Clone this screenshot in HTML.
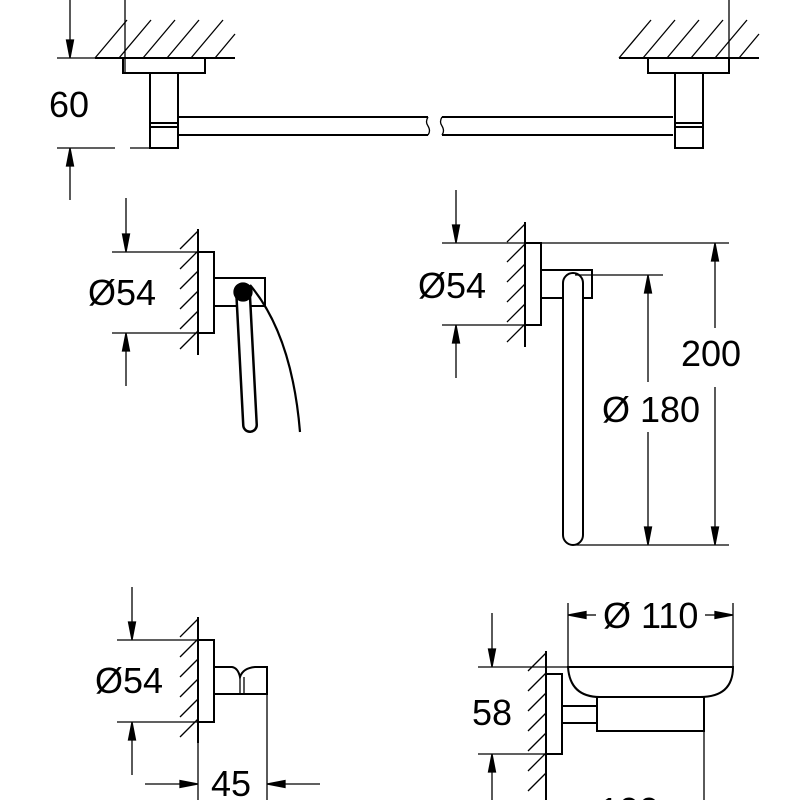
<!DOCTYPE html>
<html><head><meta charset="utf-8"><style>
html,body{margin:0;padding:0;background:#fff;}
svg{display:block;}
text{font-family:"Liberation Sans",Arial,sans-serif;font-size:36px;fill:#000;stroke:none;}
</style></head><body>
<svg width="800" height="800" viewBox="0 0 800 800" xmlns="http://www.w3.org/2000/svg">
<g stroke="#000" fill="none" stroke-width="1.3">
<!-- ===== TOP: towel bar ===== -->
<line x1="70" y1="0" x2="70" y2="40"/>
<polygon points="66.5,40 73.5,40 70,58" fill="#000"/>
<line x1="57" y1="58" x2="95" y2="58"/>
<line x1="57" y1="148" x2="115" y2="148"/>
<line x1="130" y1="148" x2="150" y2="148"/>
<polygon points="66.5,166 73.5,166 70,148" fill="#000"/>
<line x1="70" y1="166" x2="70" y2="200"/>
<line x1="95" y1="58" x2="235" y2="58" stroke-width="2"/>
<line x1="95" y1="58" x2="127" y2="20"/><line x1="119" y1="58" x2="151" y2="20"/><line x1="143" y1="58" x2="175" y2="20"/><line x1="167" y1="58" x2="199" y2="20"/><line x1="191" y1="58" x2="223" y2="20"/><line x1="215" y1="58" x2="235" y2="34"/>
<line x1="125" y1="0" x2="125" y2="73"/>
<rect x="123" y="58" width="82" height="15" stroke-width="2"/>
<rect x="150" y="73" width="28" height="75" stroke-width="2"/>
<line x1="150" y1="123" x2="178" y2="123" stroke-width="2"/><line x1="150" y1="127" x2="178" y2="127" stroke-width="2"/>
<path d="M178,117 L428,117 M178,135 L428,135 M442,117 L673,117 M442,135 L673,135" stroke-width="2"/>
<path d="M428,117 q-3,5 0,9 q3,5 0,9 M442,117 q-3,5 0,9 q3,5 0,9"/>
<line x1="619" y1="58" x2="759" y2="58" stroke-width="2"/>
<line x1="619" y1="58" x2="651" y2="20"/><line x1="643" y1="58" x2="675" y2="20"/><line x1="667" y1="58" x2="699" y2="20"/><line x1="691" y1="58" x2="723" y2="20"/><line x1="715" y1="58" x2="747" y2="20"/><line x1="739" y1="58" x2="759" y2="34"/>
<line x1="729" y1="0" x2="729" y2="73"/>
<rect x="648" y="58" width="81" height="15" stroke-width="2"/>
<rect x="675" y="73" width="28" height="75" stroke-width="2"/>
<line x1="675" y1="123" x2="703" y2="123" stroke-width="2"/><line x1="675" y1="127" x2="703" y2="127" stroke-width="2"/>
<text x="49" y="117">60</text>

<!-- ===== paper holder ===== -->
<line x1="126" y1="198" x2="126" y2="234"/>
<polygon points="122.5,234 129.5,234 126,252" fill="#000"/>
<line x1="112" y1="252" x2="198" y2="252"/>
<line x1="112" y1="333" x2="198" y2="333"/>
<polygon points="122.5,351 129.5,351 126,333" fill="#000"/>
<line x1="126" y1="351" x2="126" y2="386"/>
<line x1="198" y1="229" x2="198" y2="355" stroke-width="2"/>
<line x1="198" y1="231" x2="180" y2="249"/><line x1="198" y1="251" x2="180" y2="269"/><line x1="198" y1="271" x2="180" y2="289"/><line x1="198" y1="291" x2="180" y2="309"/><line x1="198" y1="311" x2="180" y2="329"/><line x1="198" y1="331" x2="180" y2="349"/>
<rect x="198" y="252" width="16" height="81" stroke-width="2"/>
<rect x="214" y="278" width="51" height="28" stroke-width="2"/>
<line x1="243" y1="292" x2="250" y2="425" stroke-width="16" stroke-linecap="round"/>
<line x1="243" y1="292" x2="250" y2="425" stroke="#fff" stroke-width="11" stroke-linecap="round"/>
<circle cx="243" cy="292" r="9" fill="#000"/>
<path d="M250,285 Q292,335 300,432" stroke-width="2.2"/>
<text x="88" y="305">Ø54</text>

<!-- ===== towel ring ===== -->
<line x1="456" y1="190" x2="456" y2="225"/>
<polygon points="452.5,225 459.5,225 456,243" fill="#000"/>
<line x1="442" y1="243" x2="729" y2="243"/>
<line x1="442" y1="325" x2="540" y2="325"/>
<polygon points="452.5,343 459.5,343 456,325" fill="#000"/>
<line x1="456" y1="343" x2="456" y2="378"/>
<line x1="525" y1="222" x2="525" y2="347" stroke-width="2"/>
<line x1="525" y1="224" x2="507" y2="242"/><line x1="525" y1="244" x2="507" y2="262"/><line x1="525" y1="264" x2="507" y2="282"/><line x1="525" y1="284" x2="507" y2="302"/><line x1="525" y1="304" x2="507" y2="322"/><line x1="525" y1="324" x2="507" y2="342"/>
<rect x="525" y="243" width="16" height="82" stroke-width="2"/>
<rect x="541" y="270" width="51" height="28" stroke-width="2"/>
<rect x="563" y="273" width="20" height="272" rx="10" fill="#fff" stroke-width="2"/>
<line x1="575" y1="275" x2="663" y2="275"/>
<line x1="575" y1="545" x2="729" y2="545"/>
<line x1="648" y1="293" x2="648" y2="382"/><line x1="648" y1="432" x2="648" y2="527"/>
<polygon points="644.5,293 651.5,293 648,275" fill="#000"/>
<polygon points="644.5,527 651.5,527 648,545" fill="#000"/>
<line x1="715" y1="261" x2="715" y2="328"/><line x1="715" y1="387" x2="715" y2="527"/>
<polygon points="711.5,261 718.5,261 715,243" fill="#000"/>
<polygon points="711.5,527 718.5,527 715,545" fill="#000"/>
<text x="418" y="298">Ø54</text>
<text x="602" y="422">Ø 180</text>
<text x="681" y="366">200</text>

<!-- ===== hook ===== -->
<line x1="132" y1="587" x2="132" y2="622"/>
<polygon points="128.5,622 135.5,622 132,640" fill="#000"/>
<line x1="117" y1="640" x2="198" y2="640"/>
<line x1="117" y1="722" x2="198" y2="722"/>
<polygon points="128.5,740 135.5,740 132,722" fill="#000"/>
<line x1="132" y1="740" x2="132" y2="775"/>
<line x1="198" y1="617" x2="198" y2="743" stroke-width="2"/>
<line x1="198" y1="743" x2="198" y2="800"/>
<line x1="198" y1="619" x2="180" y2="637"/><line x1="198" y1="639" x2="180" y2="657"/><line x1="198" y1="659" x2="180" y2="677"/><line x1="198" y1="679" x2="180" y2="697"/><line x1="198" y1="699" x2="180" y2="717"/><line x1="198" y1="719" x2="180" y2="737"/>
<rect x="198" y="640" width="16" height="82" stroke-width="2"/>
<path d="M214,667 L232,667 Q238,668 240,677 Q243,668 255,667 L267,667 L267,694 L214,694" stroke-width="2"/>
<line x1="240" y1="677" x2="240" y2="694"/><line x1="244" y1="677" x2="244" y2="694"/>
<line x1="267" y1="694" x2="267" y2="800"/>
<line x1="145" y1="784" x2="180" y2="784"/>
<polygon points="180,780.5 180,787.5 198,784" fill="#000"/>
<line x1="285" y1="784" x2="320" y2="784"/>
<polygon points="285,780.5 285,787.5 267,784" fill="#000"/>
<text x="95" y="693">Ø54</text>
<text x="211" y="796">45</text>

<!-- ===== soap dish ===== -->
<line x1="568" y1="603" x2="568" y2="667"/>
<line x1="733" y1="603" x2="733" y2="667"/>
<polygon points="586,611.5 586,618.5 568,615" fill="#000"/>
<polygon points="715,611.5 715,618.5 733,615" fill="#000"/>
<line x1="586" y1="615" x2="596" y2="615"/><line x1="705" y1="615" x2="715" y2="615"/>
<line x1="492" y1="613" x2="492" y2="649"/>
<polygon points="488.5,649 495.5,649 492,667" fill="#000"/>
<line x1="478" y1="667" x2="568" y2="667"/>
<line x1="478" y1="754" x2="562" y2="754"/>
<polygon points="488.5,772 495.5,772 492,754" fill="#000"/>
<line x1="492" y1="772" x2="492" y2="800"/>
<line x1="546" y1="651" x2="546" y2="800" stroke-width="2"/>
<line x1="546" y1="653" x2="528" y2="671"/><line x1="546" y1="673" x2="528" y2="691"/><line x1="546" y1="693" x2="528" y2="711"/><line x1="546" y1="713" x2="528" y2="731"/><line x1="546" y1="733" x2="528" y2="751"/><line x1="546" y1="753" x2="528" y2="771"/><line x1="546" y1="773" x2="528" y2="791"/>
<rect x="546" y="674" width="16" height="80" stroke-width="2"/>
<rect x="562" y="706" width="35" height="17" stroke-width="2"/>
<rect x="597" y="697" width="107" height="34" stroke-width="2"/>
<path d="M568,667 L733,667 Q733,697 700,697 L600,697 Q570,697 568,667 Z" fill="#fff" stroke-width="2"/>
<line x1="704" y1="731" x2="704" y2="800"/>
<text x="603" y="628">Ø 110</text>
<text x="472" y="725">58</text>
<text x="599" y="823">100</text>
</g>
</svg>
</body></html>
